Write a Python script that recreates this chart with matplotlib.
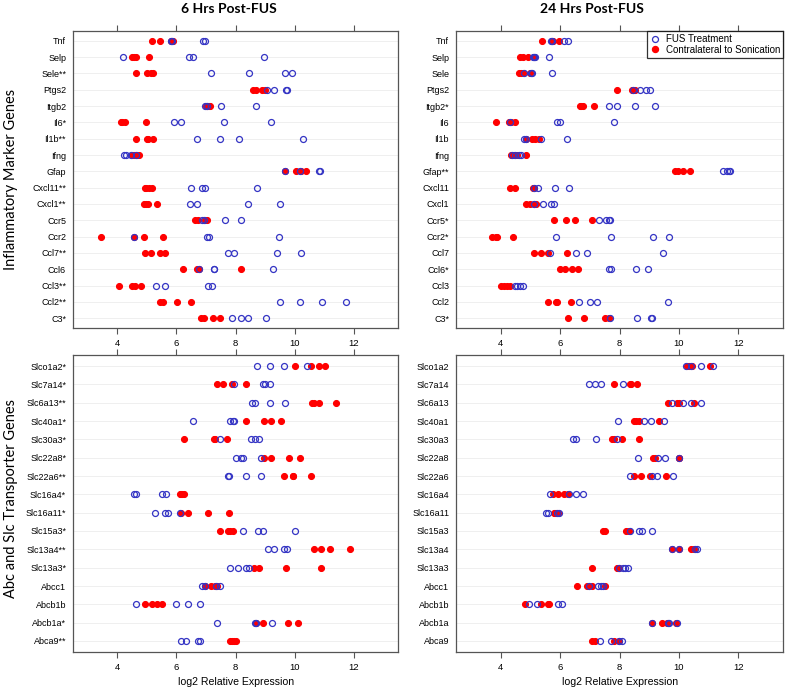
import matplotlib
matplotlib.use("Agg")
import matplotlib.pyplot as plt
from matplotlib.lines import Line2D

plt.rcParams['font.family'] = ['Liberation Sans', 'DejaVu Sans']

# ---- data (rows listed top to bottom) ----
infl_labels_6h = ["Tnf", "Selp", "Sele**", "Ptgs2", "Itgb2", "Il6*", "Il1b**", "Ifng", "Gfap",
                  "Cxcl11**", "Cxcl1**", "Ccr5", "Ccr2", "Ccl7**", "Ccl6", "Ccl3**", "Ccl2**", "C3*"]
infl_labels_24h = ["Tnf", "Selp", "Sele", "Ptgs2", "Itgb2*", "Il6", "Il1b", "Ifng", "Gfap**",
                   "Cxcl11", "Cxcl1", "Ccr5*", "Ccr2*", "Ccl7", "Ccl6*", "Ccl3", "Ccl2", "C3*"]
trans_labels_6h = ["Slco1a2*", "Slc7a14*", "Slc6a13**", "Slc40a1*", "Slc30a3*", "Slc22a8*",
                   "Slc22a6**", "Slc16a4*", "Slc16a11*", "Slc15a3*", "Slc13a4**", "Slc13a3*",
                   "Abcc1", "Abcb1b", "Abcb1a*", "Abca9**"]
trans_labels_24h = ["Slco1a2", "Slc7a14", "Slc6a13", "Slc40a1", "Slc30a3", "Slc22a8", "Slc22a6",
                    "Slc16a4", "Slc16a11", "Slc15a3", "Slc13a4", "Slc13a3", "Abcc1", "Abcb1b",
                    "Abcb1a", "Abca9"]

infl_6h_fus = [[5.80, 5.86, 6.91, 6.97], [4.19, 6.43, 6.57, 8.96], [7.18, 8.45, 9.67, 9.91],
               [9.08, 9.31, 9.70, 9.74], [6.97, 7.04, 7.51, 8.70], [5.93, 6.16, 7.62, 9.21],
               [6.69, 7.49, 8.12, 10.29], [4.21, 4.28, 4.47, 4.62], [9.66, 10.19, 10.82, 10.87],
               [6.51, 6.88, 6.96, 8.73], [6.45, 6.71, 8.43, 9.52], [6.85, 6.95, 7.66, 8.19],
               [4.57, 7.02, 7.09, 9.47], [7.75, 7.96, 9.42, 10.22], [6.76, 7.26, 7.28, 9.27],
               [5.31, 5.61, 7.06, 7.22], [9.51, 10.18, 10.94, 11.74], [7.89, 8.17, 8.43, 9.03]]
infl_6h_con = [[5.19, 5.46, 5.83, 5.87], [4.50, 4.56, 4.62, 5.07], [4.62, 4.99, 5.13, 5.21],
               [8.60, 8.69, 8.91, 9.01], [7.00, 7.05, 7.10, 7.14], [4.11, 4.17, 4.26, 4.98],
               [4.64, 4.99, 5.03, 5.22], [4.49, 4.58, 4.66, 4.72], [9.66, 10.06, 10.22, 10.39],
               [4.92, 4.98, 5.06, 5.19], [4.89, 4.97, 5.03, 5.34], [6.63, 6.72, 6.97, 7.03],
               [3.44, 4.57, 4.89, 5.55], [4.93, 5.13, 5.43, 5.60], [6.21, 6.68, 6.78, 8.17],
               [4.04, 4.49, 4.61, 4.80], [5.43, 5.54, 6.01, 6.49], [6.84, 6.94, 7.24, 7.47]]

infl_24h_fus = [[5.69, 5.74, 6.12, 6.28], [5.08, 5.12, 5.15, 5.64], [4.78, 5.01, 5.06, 5.73],
                [8.45, 8.70, 8.89, 9.02], [7.64, 7.91, 8.51, 9.18], [4.31, 5.90, 5.99, 7.82],
                [4.79, 4.85, 5.36, 6.23], [4.39, 4.47, 4.61, 4.70], [11.49, 11.62, 11.69, 11.73],
                [5.14, 5.25, 5.82, 6.29], [5.14, 5.43, 5.68, 5.79], [7.30, 7.55, 7.65, 7.69],
                [5.88, 7.70, 9.12, 9.65], [5.65, 6.55, 6.92, 9.45], [7.66, 7.73, 8.57, 8.96],
                [4.48, 4.56, 4.66, 4.76], [6.63, 7.02, 7.24, 9.63], [7.69, 8.58, 9.06, 9.08]]
infl_24h_con = [[5.40, 5.72, 5.77, 5.98], [4.66, 4.76, 4.92, 5.12], [4.63, 4.70, 4.74, 4.99],
                [7.91, 8.41, 8.47, 8.52], [6.67, 6.72, 6.76, 7.14], [3.84, 4.28, 4.36, 4.49],
                [4.84, 5.06, 5.15, 5.28], [4.34, 4.45, 4.55, 4.86], [9.87, 9.96, 10.13, 10.37],
                [4.31, 4.50, 5.10, 5.14], [4.85, 4.98, 5.12, 5.20], [5.81, 6.20, 6.51, 7.08],
                [3.70, 3.83, 3.89, 4.42], [5.13, 5.35, 5.61, 6.25], [5.99, 6.16, 6.41, 6.59],
                [4.00, 4.11, 4.22, 4.30], [5.60, 5.85, 5.89, 6.38], [6.28, 6.82, 7.50, 7.63]]

trans_6h_fus = [[8.72, 9.18, 9.63, 10.42], [7.96, 8.93, 9.01, 9.16], [8.57, 8.66, 9.18, 9.69],
                [6.56, 7.83, 7.90, 7.96], [7.48, 8.51, 8.65, 8.79], [8.02, 8.17, 8.24, 8.85],
                [7.76, 7.79, 8.34, 8.87], [4.55, 4.62, 5.51, 5.65], [5.29, 5.60, 5.73, 6.12],
                [8.27, 8.76, 8.93, 10.00], [9.10, 9.30, 9.64, 9.74], [7.82, 8.10, 8.34, 8.47],
                [6.87, 6.96, 7.34, 7.47], [4.64, 5.98, 6.38, 6.80], [7.38, 8.65, 8.71, 9.25],
                [6.16, 6.34, 6.73, 6.80]]
trans_6h_con = [[10.00, 10.55, 10.84, 11.03], [7.39, 7.58, 7.89, 8.34], [10.60, 10.65, 10.84, 11.40],
                [8.34, 8.98, 9.19, 9.55], [6.24, 7.27, 7.31, 7.71], [8.96, 9.19, 9.81, 10.17],
                [9.64, 9.94, 9.96, 10.54], [6.12, 6.16, 6.20, 6.26], [6.16, 6.40, 7.06, 7.79],
                [7.46, 7.74, 7.81, 7.92], [10.67, 10.88, 11.20, 11.89], [8.61, 8.80, 9.70, 10.89],
                [6.97, 7.18, 7.30, 7.39], [4.93, 5.17, 5.35, 5.51], [8.68, 8.92, 9.76, 10.12],
                [7.81, 7.89, 7.96, 8.01]]

trans_24h_fus = [[10.23, 10.42, 10.75, 11.13], [6.98, 7.17, 7.39, 8.11], [9.78, 10.12, 10.40, 10.75],
                 [7.96, 8.84, 9.07, 9.51], [6.45, 6.53, 7.22, 7.91], [8.61, 9.31, 9.54, 10.01],
                 [8.36, 9.08, 9.25, 9.81], [5.65, 6.31, 6.54, 6.76], [5.52, 5.60, 5.90, 5.95],
                 [8.34, 8.64, 8.75, 9.08], [9.75, 10.01, 10.55, 10.62], [7.98, 8.11, 8.20, 8.29],
                 [6.98, 7.26, 7.37, 7.46], [4.96, 5.22, 5.93, 6.07], [9.11, 9.62, 9.66, 9.92],
                 [7.35, 7.70, 7.99, 8.10]]
trans_24h_con = [[10.26, 10.35, 10.44, 11.04], [7.80, 8.34, 8.40, 8.59], [9.64, 9.92, 9.99, 10.50],
                 [8.48, 8.55, 8.64, 9.33], [7.74, 7.80, 8.07, 8.65], [9.14, 9.20, 9.99, 10.01],
                 [8.48, 8.73, 9.03, 9.55], [5.75, 5.94, 6.12, 6.27], [5.79, 5.84, 5.88, 5.93],
                 [7.43, 7.52, 8.21, 8.32], [9.78, 9.99, 10.42, 10.50], [7.07, 7.92, 7.96, 7.98],
                 [6.58, 6.92, 7.09, 7.50], [4.82, 5.36, 5.59, 5.63], [9.11, 9.42, 9.59, 9.89],
                 [7.08, 7.18, 7.80, 7.98]]

xticks = [4, 6, 8, 10, 12]

BLUE = "#3434c4"
RED = "#ff0000"
FRAME = "#555555"


def dot_panel(ax, labels, fus, con):
    n = len(labels)
    ypos = [n - i for i in range(n)]
    for y in ypos:
        ax.axhline(y, color="#efefef", lw=0.7, zorder=0)
    for y, vals in zip(ypos, con):
        ax.plot(vals, [y] * len(vals), "o", ms=4.3, mfc=RED, mec=RED, mew=0.8, ls="none", zorder=2)
    for y, vals in zip(ypos, fus):
        ax.plot(vals, [y] * len(vals), "o", ms=4.3, mfc="none", mec=BLUE, mew=0.9, ls="none", zorder=3)
    ax.set_xlim(2.5, 13.5)
    ax.set_ylim(0.4, n + 0.6)
    ax.set_yticks(ypos)
    ax.set_yticklabels(labels, fontsize=6.5)
    ax.set_xticks(xticks)
    ax.set_xticklabels([str(t) for t in xticks], fontsize=6.8)
    ax.tick_params(axis="y", length=0, pad=5)
    ax.tick_params(axis="x", which="both", direction="out", length=4, color=FRAME,
                   top=True, labeltop=False, pad=4)
    for s in ax.spines.values():
        s.set_color(FRAME)
        s.set_linewidth(0.9)


fig = plt.figure(figsize=(7.87, 6.93), dpi=100)
W, H = 787.0, 693.0

ax_tl = fig.add_axes([73 / W, 1 - 328 / H, 325 / W, 297 / H])
ax_tr = fig.add_axes([456 / W, 1 - 328 / H, 327 / W, 297 / H])
ax_bl = fig.add_axes([73 / W, 1 - 652 / H, 325 / W, 297 / H])
ax_br = fig.add_axes([456 / W, 1 - 652 / H, 327 / W, 297 / H])

dot_panel(ax_tl, infl_labels_6h, infl_6h_fus, infl_6h_con)
dot_panel(ax_tr, infl_labels_24h, infl_24h_fus, infl_24h_con)
dot_panel(ax_bl, trans_labels_6h, trans_6h_fus, trans_6h_con)
dot_panel(ax_br, trans_labels_24h, trans_24h_fus, trans_24h_con)

# legend in the 24 h inflammatory panel
handles = [Line2D([], [], marker="o", ls="none", ms=4.3, mfc="none", mec=BLUE, mew=0.9),
           Line2D([], [], marker="o", ls="none", ms=4.3, mfc=RED, mec=RED)]
leg = ax_tr.legend(handles, ["FUS Treatment", "Contralateral to Sonication"], loc="upper right",
                   fontsize=7.0, frameon=True, fancybox=False, borderaxespad=0,
                   handletextpad=0.6, borderpad=0.3, labelspacing=0.1, handlelength=1.0)
leg.get_frame().set_edgecolor("black")
leg.get_frame().set_linewidth(0.9)

fig.text(229 / W, 1 - 9 / H, "6 Hrs Post-FUS", ha="center", va="center",
         fontsize=10, fontweight="bold", family="Lato")
fig.text(592 / W, 1 - 9 / H, "24 Hrs Post-FUS", ha="center", va="center",
         fontsize=10, fontweight="bold", family="Lato")
fig.text(11 / W, 1 - 179 / H, "Inflammatory Marker Genes", rotation=90, ha="center",
         va="center", fontsize=10.5, family="Lato")
fig.text(11 / W, 1 - 499 / H, "Abc and Slc Transporter Genes", rotation=90, ha="center",
         va="center", fontsize=10.5, family="Lato")
fig.text(236 / W, 1 - 682 / H, "log2 Relative Expression", ha="center", va="center", fontsize=7.6)
fig.text(620 / W, 1 - 682 / H, "log2 Relative Expression", ha="center", va="center", fontsize=7.6)

fig.savefig("out.png", dpi=100)
